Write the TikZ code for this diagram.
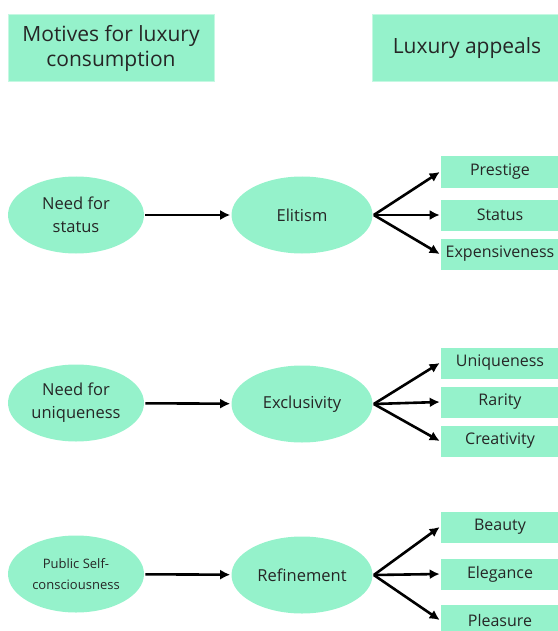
\documentclass[tikz,border=0pt]{standalone}
\usepackage{fontspec}
\setmainfont{Open Sans}
\usepackage{tikz}
\usetikzlibrary{arrows.meta,shapes,positioning}
\definecolor{mint}{HTML}{95F2CB}
\tikzset{
  basic/.style  = {fill=mint, align=center, inner sep=2pt, text=black!85},
  head/.style   = {basic, rectangle, draw=mint!55!white, line width=1pt,
                   minimum height=67pt, font=\fontsize{21}{25}\selectfont},
  motive/.style = {basic, ellipse, minimum width=136pt, minimum height=77pt,
                   font=\fontsize{16.5}{23}\selectfont},
  claim/.style  = {basic, ellipse, minimum width=141pt, minimum height=77pt,
                   font=\fontsize{16.5}{23}\selectfont},
  appeal/.style = {basic, rectangle, minimum width=118pt, minimum height=31pt,
                   font=\fontsize{16}{19}\selectfont}
}

\begin{document}
\begin{tikzpicture}[x=1pt, y=-1pt, >={Latex[length=10pt,width=10pt]}, line width=2.6pt]
\useasboundingbox (0,0) rectangle (557,631);

\node[head, minimum width=206pt] (hmot) at (111,48) {Motives for luxury\\consumption};
\node[head, minimum width=190pt] (happ) at (467,48) {Luxury appeals};

\node[motive] (m1) at (76,215) {Need for\\status};
\node[motive] (m2) at (76,403) {Need for\\uniqueness};
\node[motive, font=\fontsize{13}{21}\selectfont] (m3) at (76,574) {Public Self-\\consciousness};

\node[claim] (c1) at (302,215) {Elitism};
\node[claim] (c2) at (302,404) {Exclusivity};
\node[claim] (c3) at (302,575) {Refinement};

\node[appeal] (c11) at (500,172) {Prestige};
\node[appeal] (c12) at (500,215) {Status};
\node[appeal] (c13) at (500,254) {Expensiveness};

\node[appeal] (c21) at (500,363) {Uniqueness};
\node[appeal] (c22) at (500,402) {Rarity};
\node[appeal] (c23) at (500,441) {Creativity};

\node[appeal] (c31) at (500,527) {Beauty};
\node[appeal] (c32) at (500,574) {Elegance};
\node[appeal] (c33) at (500,620) {Pleasure};

\foreach \row in {1,2,3}
  \draw[->] (m\row) -- (c\row);

\foreach \row in {1,2,3}
  \foreach \value in {1,2,3}
    \draw[->] (c\row.east) -- (c\row\value.west);
\end{tikzpicture}
\end{document}
